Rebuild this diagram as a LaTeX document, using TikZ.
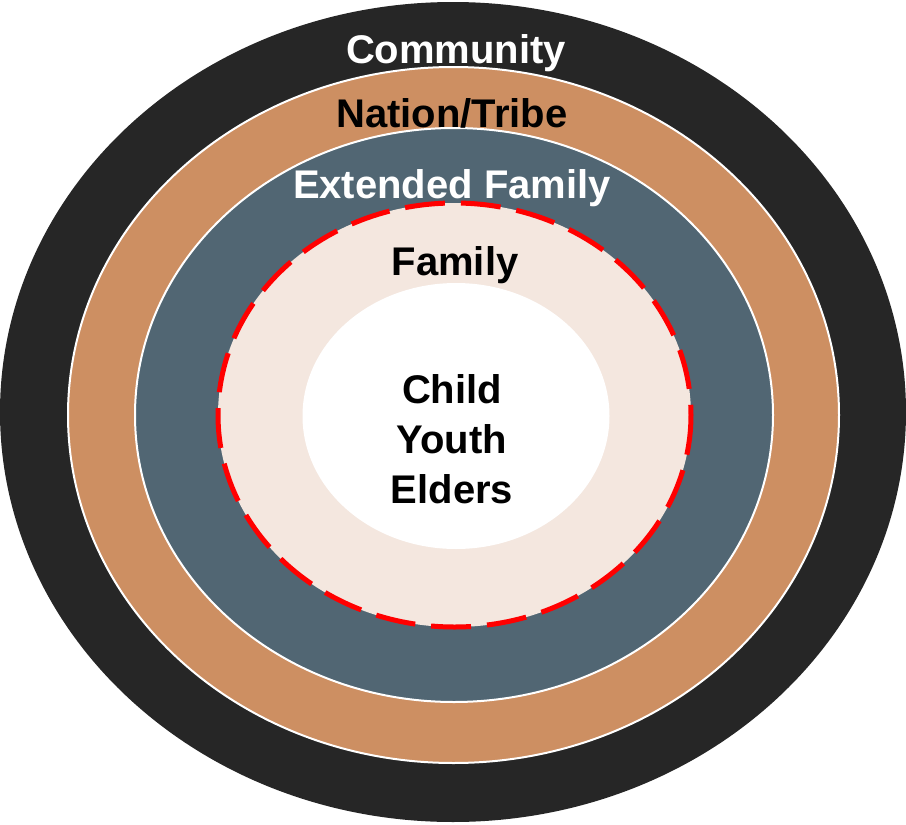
\documentclass[tikz,border=0pt]{standalone}
\usepackage{fontspec}
\setmainfont{Liberation Sans}

\definecolor{communityblack}{HTML}{262626}
\definecolor{tribetan}{HTML}{CD8F62}
\definecolor{extslate}{HTML}{516673}
\definecolor{familycream}{HTML}{F4E7DF}
\definecolor{dashred}{HTML}{FF0000}

\tikzset{
	ringtext/.style={font=\bfseries\fontsize{40}{50}\selectfont, anchor=base, inner sep=0pt},
	ringedge/.style={draw=white, line width=2pt}
}

\begin{document}
\begin{tikzpicture}[x=1pt,y=-1pt]

\useasboundingbox (0,0) rectangle (906,825);

%%%%%%%%%%%%%%%%%%%%%%%%%%%%%%%%%%%%%%%%%%

\fill [communityblack] (453,412) ellipse [x radius=453, y radius=410];
\draw [ringedge, fill=tribetan] (453.5,415) ellipse [x radius=385.5, y radius=348];
\draw [ringedge, fill=extslate] (454,415) ellipse [x radius=319, y radius=287];

%%%%%%%%%%%%%%%%%%%%%%%%%%%%%%%%%%%%%%%%%%

\draw [fill=familycream, draw=dashred, line width=5pt, dash pattern=on 40pt off 16pt]
	(454.5,415) ellipse [x radius=236.5, y radius=212];
\fill [white] (456,416) ellipse [x radius=153.5, y radius=133];

%%%%%%%%%%%%%%%%%%%%%%%%%%%%%%%%%%%%%%%%%%

\node (community) [ringtext, text=white] at (456,63)  {Community};
\node (tribe)     [ringtext]             at (452,127) {Nation/Tribe};
\node (extended)  [ringtext, text=white] at (452,198) {Extended Family};
\node (family)    [ringtext]             at (455,275) {Family};
\node (members)   [ringtext, anchor=center, align=center] at (452,439) {Child\\Youth\\Elders};

\end{tikzpicture}
\end{document}
